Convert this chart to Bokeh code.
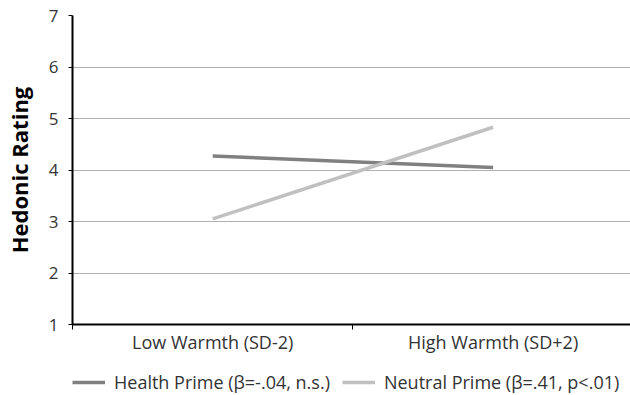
from bokeh.plotting import figure
from bokeh.layouts import column
from bokeh.models import Range1d, FixedTicker, Legend, LegendItem
from bokeh.embed import file_html
from bokeh.resources import INLINE

categories = ["Low Warmth (SD-2)", "High Warmth (SD+2)"]
health_prime = [4.27, 4.05]
neutral_prime = [3.05, 4.83]
series_labels = ["Health Prime (β=-.04, n.s.)", "Neutral Prime (β=.41, p<.01)"]
y_ticks = [1, 2, 3, 4, 5, 6, 7]

FONT = "Open Sans"
HEALTH_COLOR = "#808080"
NEUTRAL_COLOR = "#c0c0c0"
xs = [i + 0.5 for i in range(len(categories))]

p = figure(width=630, height=360, output_backend="svg", toolbar_location=None,
           x_range=Range1d(0, 1.99), y_range=Range1d(1, 7),
           min_border_left=69, min_border_right=0, min_border_top=15, min_border_bottom=36)
p.outline_line_color = None
p.background_fill_color = "white"

p.line(xs, health_prime, line_color=HEALTH_COLOR, line_width=3.5)
p.line(xs, neutral_prime, line_color=NEUTRAL_COLOR, line_width=3.5)

# x axis
p.xaxis.ticker = FixedTicker(ticks=xs, minor_ticks=[0, 1])
p.xaxis.major_label_overrides = {x: c for x, c in zip(xs, categories)}
p.xaxis.major_tick_out = 0
p.xaxis.major_tick_in = 0
p.xaxis.minor_tick_out = 5
p.xaxis.minor_tick_in = 0
p.xaxis.minor_tick_line_color = "black"
p.xaxis.axis_line_color = "black"
p.xaxis.axis_line_width = 2
p.xaxis.major_label_text_font = FONT
p.xaxis.major_label_text_font_size = "18px"
p.xaxis.major_label_text_color = "#333333"
p.xaxis.major_label_standoff = 0
p.xgrid.grid_line_color = None

# y axis
p.yaxis.ticker = FixedTicker(ticks=y_ticks)
p.yaxis.minor_tick_line_color = None
p.yaxis.major_tick_out = 4
p.yaxis.major_tick_in = 0
p.yaxis.major_tick_line_color = "black"
p.yaxis.axis_line_color = "black"
p.yaxis.axis_line_width = 2
p.yaxis.major_label_text_font = FONT
p.yaxis.major_label_text_font_size = "17px"
p.yaxis.major_label_text_color = "#333333"
p.yaxis.major_label_standoff = 10
p.yaxis.axis_label = "Hedonic Rating"
p.yaxis.axis_label_text_font = FONT
p.yaxis.axis_label_text_font_size = "22px"
p.yaxis.axis_label_text_font_style = "bold"
p.yaxis.axis_label_text_color = "black"
p.yaxis.axis_label_standoff = 12
p.ygrid.grid_line_color = "#b0b0b0"
p.ygrid.grid_line_width = 1.2

# legend strip below the chart (series drawn out of view; only legend shows)
lg = figure(width=630, height=35, output_backend="svg", toolbar_location=None,
            x_range=Range1d(0, 1), y_range=Range1d(-1, 0),
            x_axis_location=None, y_axis_location=None,
            min_border=0, min_border_left=0, min_border_right=0,
            min_border_top=0, min_border_bottom=0)
lg.grid.visible = False
lg.outline_line_color = None
d1 = lg.line(xs, health_prime, line_color=HEALTH_COLOR, line_width=3.5)
d2 = lg.line(xs, neutral_prime, line_color=NEUTRAL_COLOR, line_width=3.5)

legend = Legend(items=[LegendItem(label=series_labels[0], renderers=[d1]),
                       LegendItem(label=series_labels[1], renderers=[d2])],
                orientation="horizontal", location=(0, 1),
                padding=0, margin=0, spacing=12, border_line_color=None,
                background_fill_alpha=0,
                glyph_width=33, glyph_height=20, label_height=20, label_standoff=9,
                label_text_font=FONT, label_text_font_size="18px", label_text_color="#333333")
lg.add_layout(legend, "center")

layout = column(p, lg, spacing=0)
open("out.html", "w").write(file_html(layout, INLINE))
